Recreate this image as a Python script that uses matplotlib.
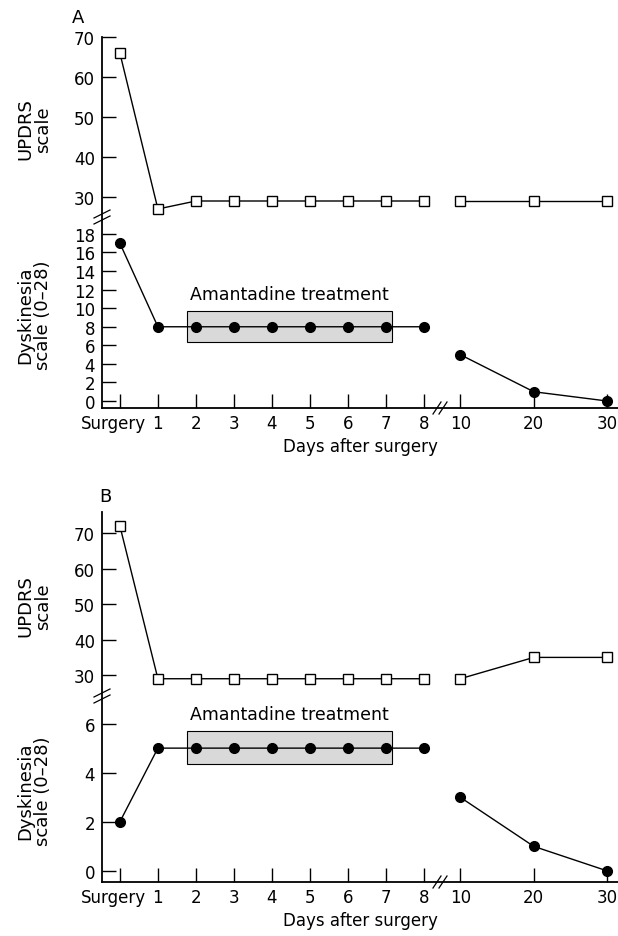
import matplotlib
matplotlib.use('Agg')
import matplotlib.pyplot as plt
import matplotlib.transforms as mtransforms
from matplotlib.patches import Rectangle
from matplotlib.lines import Line2D

# data
days = [0, 1, 2, 3, 4, 5, 6, 7, 8, 10, 20, 30]
day_labels = ["Surgery", "1", "2", "3", "4", "5", "6", "7", "8", "10", "20", "30"]

updrs_a = [66, 27, 29, 29, 29, 29, 29, 29, 29, 29, 29, 29]
dysk_a = [17, 8, 8, 8, 8, 8, 8, 8, 8, 5, 1, 0]
updrs_b = [72, 29, 29, 29, 29, 29, 29, 29, 29, 29, 35, 35]
dysk_b = [2, 5, 5, 5, 5, 5, 5, 5, 5, 3, 1, 0]


def day_pos(d):
    # broken x scale: 0-8 one unit per day, after the break 10 days ~ 1.93 units
    if d <= 8:
        return d
    return 8.95 + (d - 10) * 0.1935


xpos = [day_pos(d) for d in days]
XLIM = (-0.47, 13.1)

plt.rcParams['font.family'] = ['DejaVu Sans']
plt.rcParams['font.size'] = 12

fig = plt.figure(figsize=(6.18, 9.37), dpi=100)
W, H = 618.0, 937.0


def ax_px(left, top, right, bottom):
    return fig.add_axes([left / W, 1 - bottom / H, (right - left) / W, (bottom - top) / H])


def style(ax, show_x):
    ax.set_xlim(*XLIM)
    ax.spines['top'].set_visible(False)
    ax.spines['right'].set_visible(False)
    ax.spines['left'].set_linewidth(1.3)
    ax.spines['bottom'].set_linewidth(1.3)
    ax.tick_params(axis='y', direction='in', length=10, width=1.0, pad=5)
    if show_x:
        ax.set_xticks(xpos)
        ax.set_xticklabels(day_labels)
        ax.tick_params(axis='x', direction='in', length=10, width=1.0, pad=4)
        ax.set_xlabel("Days after surgery", labelpad=4)
        # nudge "Surgery" left so it does not run into "1"
        lab = ax.get_xticklabels()[0]
        lab.set_transform(lab.get_transform() +
                          mtransforms.ScaledTranslation(-6 / 100, 0, fig.dpi_scale_trans))
    else:
        ax.spines['bottom'].set_visible(False)
        ax.set_xticks([])


def draw_series(ax, vals, marker, mfc):
    # no connecting line across the break (8 -> 10)
    for sl in (slice(0, 9), slice(9, 12)):
        ax.plot(xpos[sl], vals[sl], color='black', lw=1.0, marker=marker,
                markersize=7, markerfacecolor=mfc, markeredgecolor='black',
                markeredgewidth=1.0, clip_on=False, zorder=3)


def treatment_box(ax, y0, y1, ytext):
    ax.add_patch(Rectangle((1.76, y0), 5.4, y1 - y0, facecolor='#d9d9d9',
                           edgecolor='black', lw=0.8, zorder=1))
    ax.text(4.47, ytext, "Amantadine treatment", ha='center', va='center', fontsize=12.5)


def break_marks(x, y, horizontal):
    # small '//' marks in pixel coordinates
    for off in (-3, 3):
        if horizontal:
            xs = [x + off - 4, x + off + 4]
            ys = [y + 6, y - 6]
        else:
            xs = [x - 8, x + 8]
            ys = [y + off + 4, y + off - 4]
        fig.add_artist(Line2D([v / W for v in xs], [1 - v / H for v in ys],
                              color='black', lw=0.9))


def panel(top_px, split_px, bottom_px, updrs, dysk, up_lim, dy_lim, dy_ticks,
          box, letter, letter_xy):
    ax1 = ax_px(102, top_px, 618, split_px)
    ax2 = ax_px(102, split_px, 618, bottom_px)
    style(ax1, False)
    style(ax2, True)
    ax1.set_ylim(*up_lim)
    ax1.set_yticks([30, 40, 50, 60, 70])
    ax2.set_ylim(*dy_lim)
    ax2.set_yticks(dy_ticks)
    draw_series(ax1, updrs, 's', 'white')
    draw_series(ax2, dysk, 'o', 'black')
    treatment_box(ax2, *box)
    ax1.set_ylabel("UPDRS\nscale", linespacing=0.95, fontsize=13)
    ax1.yaxis.set_label_coords(-0.097, 0.5)
    ax2.set_ylabel("Dyskinesia\nscale (0\u201328)", linespacing=0.95, fontsize=13)
    ax2.yaxis.set_label_coords(-0.097, 0.5)
    fig.text(letter_xy[0] / W, 1 - letter_xy[1] / H, letter, ha='center',
             va='center', fontsize=13)
    break_marks(102, split_px - 3, False)
    break_marks(440, bottom_px, True)


panel(38, 221, 409, updrs_a, dysk_a, (24.25, 70), (-0.75, 19.5),
      list(range(0, 19, 2)), (6.35, 9.7, 11.5), "A", (78, 18))
panel(513, 700, 883, updrs_b, dysk_b, (23.3, 75.9), (-0.45, 7.0),
      [0, 2, 4, 6], (4.36, 5.68, 6.4), "B", (105, 497))

plt.savefig("out.png", dpi=100)
plt.close()
